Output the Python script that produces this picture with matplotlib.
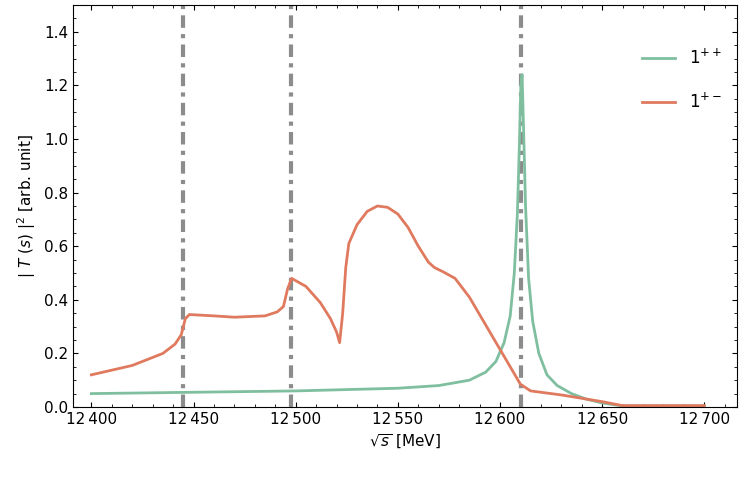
import matplotlib
matplotlib.use("Agg")
import matplotlib.pyplot as plt
import numpy as np

thresholds = [12445, 12497.5, 12610.5]
g_x = [12400,12450,12500,12550,12570,12585,12593,12598,12602,12605,12607,12608.5,12609.5,12610.2,12610.8,12611.5,12612.5,12614,12616,12619,12623,12628,12635,12642,12650,12660,12700]
g_y = [0.05,0.055,0.06,0.07,0.08,0.10,0.13,0.17,0.24,0.34,0.50,0.72,0.98,1.20,1.24,1.05,0.75,0.48,0.32,0.20,0.12,0.08,0.05,0.03,0.015,0.004,0.004]
o_x = [12400,12420,12435,12441,12444,12446,12448,12460,12470,12485,12491,12494,12496,12498,12505,12512,12517,12520,12521.5,12523,12524.5,12526,12530,12535,12540,12545,12550,12555,12560,12565,12568,12572,12578,12585,12595,12605,12610,12615,12630,12650,12660,12700]
o_y = [0.12,0.155,0.2,0.235,0.27,0.33,0.345,0.34,0.335,0.34,0.355,0.375,0.44,0.48,0.45,0.39,0.33,0.28,0.24,0.35,0.52,0.61,0.68,0.73,0.75,0.745,0.72,0.67,0.60,0.54,0.52,0.505,0.48,0.41,0.28,0.15,0.085,0.06,0.045,0.02,0.005,0.005]

fig = plt.figure(figsize=(7.47,4.80), dpi=100)
ax = fig.add_axes([73/747, 73/480, 664/747, 402/480])
for t in thresholds:
    ax.axvline(t, color='#8c8c8c', lw=3, ls=(0, (3, 1.5, 1, 1.5)))
ax.plot(g_x, g_y, color='#7fbf9f', lw=2, label='$1^{++}$')
ax.plot(o_x, o_y, color='#e07a5f', lw=2, label='$1^{+-}$')
ax.set_xlim(12391, 12716)
ax.set_ylim(0, 1.5)
ax.set_xticks([12400,12450,12500,12550,12600,12650,12700])
ax.set_xticklabels(['12\u2009400','12\u2009450','12\u2009500','12\u2009550','12\u2009600','12\u2009650','12\u2009700'])
ax.set_yticks(np.arange(0,1.41,0.2))
ax.set_yticklabels([f'{v:.1f}' for v in np.arange(0,1.41,0.2)])
ax.minorticks_on()
ax.tick_params(which='both', direction='in', top=True, right=True, labelsize=11)
ax.set_xlabel(r'$\sqrt{s}$ [MeV]', fontsize=11)
ax.set_ylabel(r'$|\ T\ (s)\ |^2$ [arb. unit]', fontsize=11)
ax.legend(loc='upper right', bbox_to_anchor=(1.0, 0.93), frameon=False, fontsize=12, handlelength=2, labelspacing=1.5)
fig.savefig('out.png', dpi=100)
